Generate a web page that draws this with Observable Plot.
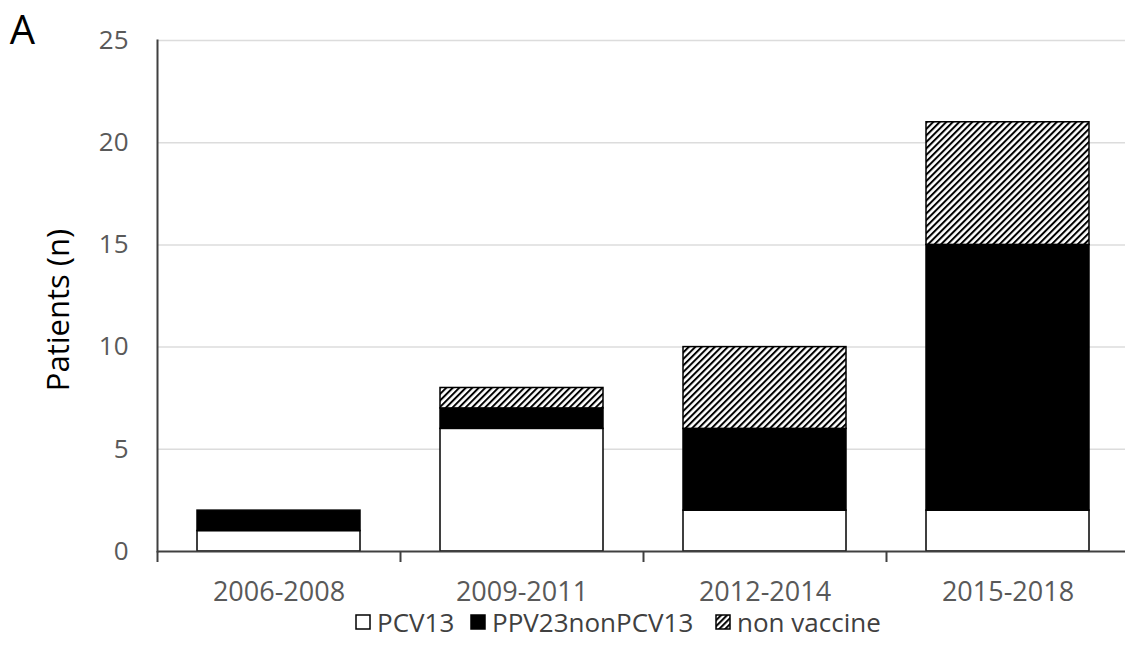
<!DOCTYPE html>
<html>
<head>
<meta charset="utf-8">
<script src="https://cdn.jsdelivr.net/npm/d3@7"></script>
<script src="https://cdn.jsdelivr.net/npm/@observablehq/plot@0.6"></script>
<style>
  html, body { margin: 0; padding: 0; background: #fff; }
  #chart { width: 1125px; height: 612px; }
  #chart svg { display: block; }
  #legend { position: relative; height: 30px; line-height: 1;
            font-family: "Open Sans", sans-serif; font-size: 26px; color: #404040; }
  #legend .item { position: absolute; top: -5px; height: 30px; display: flex; align-items: center; white-space: nowrap; }
  #legend svg { margin-right: 6px; }
</style>
</head>
<body>
<div id="chart"></div>
<div id="legend"></div>
<script>
const periods = ["2006-2008", "2009-2011", "2012-2014", "2015-2018"];
const seriesNames = ["PCV13", "PPV23nonPCV13", "non vaccine"];
const pcv13 = [1, 6, 2, 2];
const ppv23nonPcv13 = [1, 1, 4, 13];
const nonVaccine = [0, 1, 4, 6];
const yTicks = [0, 5, 10, 15, 20, 25];

const seriesValues = [pcv13, ppv23nonPcv13, nonVaccine];
const rows = [];
periods.forEach((p, i) => {
  seriesNames.forEach((s, j) => {
    if (seriesValues[j][i] > 0) rows.push({period: p, series: s, value: seriesValues[j][i]});
  });
});

const xRange = [157, 1129];
const padIn = 0.33, padOut = 0.165;
const step = (xRange[1] - xRange[0]) / (periods.length - padIn + 2 * padOut);

const textColor = "#595959";
const axisColor = "#404040";

const chart = Plot.plot({
  width: 1125,
  height: 612,
  marginLeft: 157,
  marginRight: 0,
  marginTop: 40,
  marginBottom: 61,
  style: {fontFamily: "'Open Sans', sans-serif", fontSize: "26px", background: "white"},
  x: {domain: periods, range: xRange, paddingInner: padIn, paddingOuter: padOut},
  y: {domain: [0, 25]},
  color: {domain: seriesNames, range: ["white", "black", "url(#hatch)"]},
  marks: [
    Plot.gridY(yTicks.filter(d => d > 0), {stroke: "#dcdcdc", strokeOpacity: 1, strokeWidth: 1.5}),
    Plot.barY(rows, {x: "period", y: "value", fill: "series", stroke: "black", strokeWidth: 1.5}),
    Plot.ruleY([0], {stroke: axisColor, strokeWidth: 2}),
    Plot.frame({anchor: "left", stroke: axisColor, strokeWidth: 2}),
    Plot.axisX({tickSize: 11, tickFormat: () => "", dx: -step / 2, stroke: axisColor, strokeWidth: 2, label: null}),
    Plot.axisX({tickSize: 0, tickPadding: 30, fontSize: 27, color: textColor, label: null}),
    Plot.axisY({ticks: yTicks, tickSize: 0, tickPadding: 29, fontSize: 26, color: textColor, label: null}),
    Plot.text(["Patients (n)"], {frameAnchor: "left", rotate: -90, dx: -98, dy: 14, textAnchor: "middle", lineAnchor: "middle", fontSize: 31, fill: "black"}),
    Plot.text(["A"], {frameAnchor: "top-left", dx: -135, dy: -9, textAnchor: "middle", lineAnchor: "middle", fontSize: 40, fill: "black"})
  ]
});

const ns = "http://www.w3.org/2000/svg";
const defs = document.createElementNS(ns, "defs");
defs.innerHTML = `<pattern id="hatch" patternUnits="userSpaceOnUse" width="4.6" height="4.6" patternTransform="rotate(45)">
  <rect width="4.6" height="4.6" fill="white"></rect>
  <rect width="2" height="4.6" fill="black"></rect>
</pattern>`;
chart.insertBefore(defs, chart.firstChild);
document.getElementById("chart").appendChild(chart);

const legend = document.getElementById("legend");
const swatchFills = ["white", "black", "url(#hatchL)"];
const legendLeft = [355, 470, 715];
seriesNames.forEach((s, i) => {
  const item = document.createElement("div");
  item.className = "item";
  item.style.left = legendLeft[i] + "px";
  item.innerHTML = `<svg width="16" height="16" viewBox="0 0 16 16">
    <defs><pattern id="hatchL" patternUnits="userSpaceOnUse" width="4.2" height="4.2" patternTransform="rotate(45)">
      <rect width="4.2" height="4.2" fill="white"></rect><rect width="2" height="4.2" fill="black"></rect></pattern></defs>
    <rect x="1" y="1" width="14" height="14" fill="${swatchFills[i]}" stroke="black" stroke-width="1.5"></rect></svg><span>${s}</span>`;
  legend.appendChild(item);
});
</script>
</body>
</html>
